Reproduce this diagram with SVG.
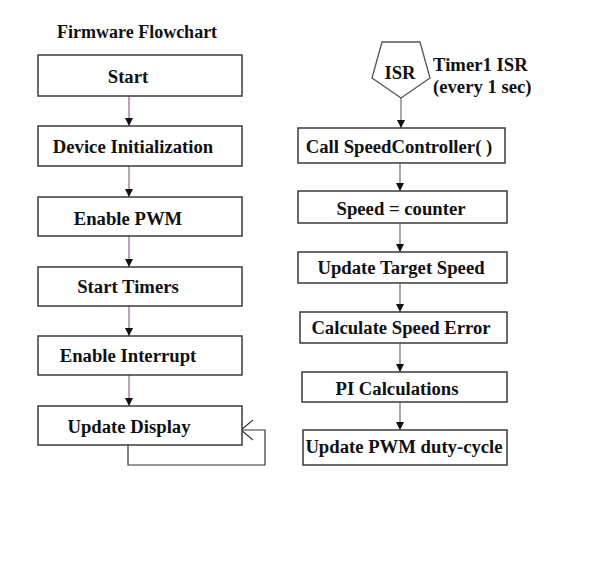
<svg xmlns="http://www.w3.org/2000/svg" width="611" height="571" viewBox="0 0 611 571">
<style>
  .box { fill: #ffffff; stroke: #3a3a3a; stroke-width: 1.5; }
  .lbl { font-family: "Liberation Serif", "Times New Roman", serif; font-weight: bold; font-size: 18.7px; fill: #111111; }
  .mid { text-anchor: middle; }
  .lconn { stroke: #9a6f9a; stroke-width: 1.3; fill: none; }
  .rconn { stroke: #7a7a7a; stroke-width: 1.3; fill: none; }
  .loop { stroke: #333333; stroke-width: 1.2; fill: none; }
</style>
<defs>
  <marker id="ah" markerWidth="8" markerHeight="10" refX="8" refY="5" orient="auto" markerUnits="userSpaceOnUse">
    <path d="M0,1 L8,5 L0,9 Z" fill="#111111"/>
  </marker>
  <marker id="oh" markerWidth="12" markerHeight="22" refX="12" refY="11" orient="auto" markerUnits="userSpaceOnUse">
    <path d="M0,1 L12,11 L0,21" fill="none" stroke="#333333" stroke-width="1.2"/>
  </marker>
</defs>
<rect width="611" height="571" fill="#ffffff"/>
<text id="title" class="lbl" x="57" y="38" style="font-size:18px">Firmware Flowchart</text>

<g id="connectors">
  <line class="lconn" x1="129" y1="96" x2="129" y2="126" marker-end="url(#ah)"/>
  <line class="lconn" x1="129" y1="166" x2="129" y2="197" marker-end="url(#ah)"/>
  <line class="lconn" x1="129" y1="236" x2="129" y2="267" marker-end="url(#ah)"/>
  <line class="lconn" x1="129" y1="306" x2="129" y2="336" marker-end="url(#ah)"/>
  <line class="lconn" x1="129" y1="375" x2="129" y2="406" marker-end="url(#ah)"/>
  <path class="loop" d="M128,445 V465 H265 V430 H241" marker-end="url(#oh)"/>
  <line class="rconn" x1="401" y1="98" x2="401" y2="128" marker-end="url(#ah)"/>
  <line class="rconn" x1="400" y1="163" x2="400" y2="191" marker-end="url(#ah)"/>
  <line class="rconn" x1="400" y1="223" x2="400" y2="252" marker-end="url(#ah)"/>
  <line class="rconn" x1="400" y1="283" x2="400" y2="312" marker-end="url(#ah)"/>
  <line class="rconn" x1="400" y1="343" x2="400" y2="372" marker-end="url(#ah)"/>
  <line class="rconn" x1="400" y1="402" x2="400" y2="430" marker-end="url(#ah)"/>
</g>

<g id="start"><rect class="box" x="38" y="55" width="204" height="41"/><text class="lbl mid" x="128" y="83">Start</text></g>
<g id="device-init"><rect class="box" x="38" y="126" width="204" height="40"/><text class="lbl mid" x="133" y="153">Device Initialization</text></g>
<g id="enable-pwm"><rect class="box" x="38" y="197" width="204" height="39"/><text class="lbl mid" x="128" y="225">Enable PWM</text></g>
<g id="start-timers"><rect class="box" x="38" y="267" width="204" height="39"/><text class="lbl mid" x="128" y="293">Start Timers</text></g>
<g id="enable-interrupt"><rect class="box" x="38" y="336" width="204" height="39"/><text class="lbl mid" x="128" y="362">Enable Interrupt</text></g>
<g id="update-display"><rect class="box" x="38" y="406" width="204" height="39"/><text class="lbl mid" x="129" y="433">Update Display</text></g>

<g id="isr">
  <polygon points="382,42 420,42 430,78 401,98 372,78" fill="#ffffff" stroke="#555555" stroke-width="1.3"/>
  <text class="lbl mid" x="400" y="79">ISR</text>
  <text class="lbl" x="433" y="71">Timer1 ISR</text>
  <text class="lbl" x="433" y="93">(every 1 sec)</text>
</g>

<g id="call-speed"><rect class="box" x="298" y="128" width="207" height="35"/><text class="lbl mid" x="399" y="153">Call SpeedController( )</text></g>
<g id="speed-counter"><rect class="box" x="298" y="191" width="209" height="32"/><text class="lbl mid" x="401" y="215">Speed = counter</text></g>
<g id="update-target"><rect class="box" x="298" y="252" width="209" height="31"/><text class="lbl mid" x="401" y="274">Update Target Speed</text></g>
<g id="calc-error"><rect class="box" x="300" y="312" width="207" height="31"/><text class="lbl mid" x="401" y="334">Calculate Speed Error</text></g>
<g id="pi-calc"><rect class="box" x="302" y="372" width="205" height="30"/><text class="lbl mid" x="397" y="395">PI Calculations</text></g>
<g id="update-pwm"><rect class="box" x="303" y="430" width="204" height="35"/><text class="lbl mid" x="404" y="453">Update PWM duty-cycle</text></g>
</svg>
